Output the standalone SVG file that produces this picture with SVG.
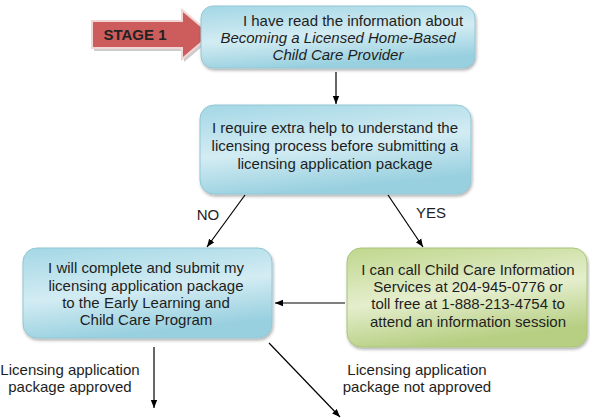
<svg xmlns="http://www.w3.org/2000/svg" width="590" height="420" viewBox="0 0 590 420">
<defs>
<linearGradient id="gBlue" x1="0" y1="0" x2="0.3" y2="1">
<stop offset="0" stop-color="#a3d7e5"/>
<stop offset="0.55" stop-color="#d3ecf3"/>
<stop offset="1" stop-color="#98d0df"/>
</linearGradient>
<linearGradient id="gGreen" x1="0" y1="0" x2="0.3" y2="1">
<stop offset="0" stop-color="#bfd78d"/>
<stop offset="0.55" stop-color="#e5eecd"/>
<stop offset="1" stop-color="#b6cf82"/>
</linearGradient>
<filter id="sh" x="-10%" y="-10%" width="120%" height="130%">
<feDropShadow dx="1" dy="2" stdDeviation="1.5" flood-color="#000" flood-opacity="0.3"/>
</filter>
<marker id="ah" markerWidth="8" markerHeight="8" refX="8" refY="4" orient="auto" markerUnits="userSpaceOnUse">
<path d="M0,0.8 L8,4 L0,7.2 z" fill="#000"/>
</marker>
</defs>
<style>
.box{fill:url(#gBlue);stroke:#93c6d5;stroke-width:1;filter:url(#sh)}
.gbox{fill:url(#gGreen);stroke:#a9c47a;stroke-width:1;filter:url(#sh)}
.t{font-family:"Liberation Sans",Arial,sans-serif;font-size:15px;fill:#1e1e1e;text-anchor:middle}
.i{font-style:italic}
.c{stroke:#000;stroke-width:1.2;fill:none;marker-end:url(#ah)}
</style>
<g id="stage1">
<polygon points="92,21 182,21 182,10 211,34.5 182,59 182,48 92,48" fill="#9a9a9a" opacity="0.5" transform="translate(2,3)"/>
<polygon points="92,21 182,21 182,10 211,34.5 182,59 182,48 92,48" fill="#cd5c5c" stroke="#f2d6d6" stroke-width="2"/>
<text x="135" y="40" style="font-family:'Liberation Sans',Arial,sans-serif;font-size:15px;font-weight:bold;fill:#222;text-anchor:middle">STAGE 1</text>
</g>
<g id="node1">
<rect class="box" x="201" y="6" width="274" height="62" rx="12"/>
<text class="t" x="353" y="26">I have read the information about</text>
<text class="t i" x="338" y="43">Becoming a Licensed Home-Based</text>
<text class="t i" x="338" y="60">Child Care Provider</text>
</g>
<g id="node2">
<rect class="box" x="200" y="105" width="271" height="89" rx="14"/>
<text class="t" x="335" y="133">I require extra help to understand the</text>
<text class="t" x="335" y="151">licensing process before submitting a</text>
<text class="t" x="335" y="169">licensing application package</text>
</g>
<g id="node3">
<rect class="box" x="23" y="248" width="249" height="90" rx="14"/>
<text class="t" x="146" y="273">I will complete and submit my</text>
<text class="t" x="146" y="291">licensing application package</text>
<text class="t" x="146" y="308">to the Early Learning and</text>
<text class="t" x="146" y="325">Child Care Program</text>
</g>
<g id="node4">
<rect class="gbox" x="347" y="248" width="240" height="99" rx="14"/>
<text class="t" x="468" y="275">I can call Child Care Information</text>
<text class="t" x="468" y="292">Services at 204-945-0776 or</text>
<text class="t" x="468" y="309">toll free at 1-888-213-4754 to</text>
<text class="t" x="468" y="327">attend an information session</text>
</g>
<g id="connectors">
<line class="c" x1="336" y1="72" x2="336" y2="104"/>
<line class="c" x1="245" y1="195" x2="207" y2="247"/>
<line class="c" x1="388" y1="195" x2="423" y2="247"/>
<line class="c" x1="345" y1="303" x2="275" y2="303"/>
<line class="c" x1="154" y1="347" x2="154" y2="408"/>
<line class="c" x1="269" y1="343" x2="340" y2="417"/>
</g>
<g id="labels">
<text class="t" x="208" y="220">NO</text>
<text class="t" x="431" y="218">YES</text>
<text class="t" x="70" y="375">Licensing application</text>
<text class="t" x="70" y="392">package approved</text>
<text class="t" x="417" y="375">Licensing application</text>
<text class="t" x="417" y="392">package not approved</text>
</g>
</svg>
